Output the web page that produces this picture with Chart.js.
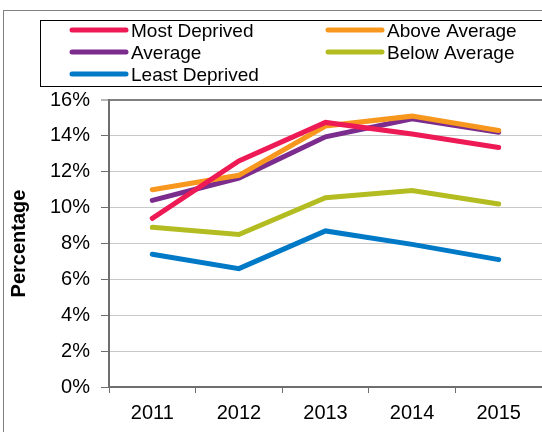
<!DOCTYPE html>
<html>
<head>
<meta charset="utf-8">
<script src="https://cdn.jsdelivr.net/npm/chart.js@4.4.1/dist/chart.umd.min.js"></script>
<style>
    body { margin: 0; background: #fff; }
    canvas { display: block; }
</style>
</head>
<body>
<canvas id="chart" width="542" height="432"></canvas>
<script>
const years = ['2011', '2012', '2013', '2014', '2015'];
const mostDeprived = [9.4, 12.6, 14.75, 14.1, 13.35];
const aboveAverage = [11.0, 11.8, 14.55, 15.1, 14.3];
const average = [10.4, 11.65, 13.95, 14.95, 14.2];
const belowAverage = [8.9, 8.5, 10.55, 10.95, 10.2];
const leastDeprived = [7.4, 6.6, 8.7, 7.95, 7.1];
const yTicks = [0, 2, 4, 6, 8, 10, 12, 14, 16];

const FONT = 'Liberation Sans, Arial, sans-serif';

// legend in a boxed frame, two columns, and the outer chart border
const frameLegend = {
    id: 'frameLegend',
    afterDraw(chart) {
        const ctx = chart.ctx;
        ctx.save();
        ctx.strokeStyle = '#808080';
        ctx.lineWidth = 1;
        ctx.strokeRect(3.5, 10.5, 700, 600);

        ctx.strokeStyle = '#000';
        ctx.strokeRect(40.5, 20.5, 700, 66);

        const slots = [[72, 30], [328, 30], [72, 52], [328, 52], [72, 74]];
        ctx.font = '19px ' + FONT;
        ctx.textBaseline = 'alphabetic';
        chart.data.datasets.forEach((ds, i) => {
            const [x, y] = slots[i];
            ctx.strokeStyle = ds.borderColor;
            ctx.lineWidth = 5;
            ctx.lineCap = 'round';
            ctx.beginPath();
            ctx.moveTo(x, y);
            ctx.lineTo(x + 54, y);
            ctx.stroke();
            ctx.fillStyle = '#000';
            ctx.fillText(ds.label, x + 59, y + 7);
        });
        ctx.restore();
    }
};

function lineSet(label, data, color) {
    return {
        label, data,
        borderColor: color,
        backgroundColor: color,
        borderWidth: 5,
        borderCapStyle: 'round',
        pointRadius: 0,
        tension: 0,
        fill: false
    };
}

new Chart(document.getElementById('chart').getContext('2d'), {
    type: 'line',
    data: {
        labels: years,
        datasets: [
            lineSet('Most Deprived', mostDeprived, '#ED1A55'),
            lineSet('Above Average', aboveAverage, '#F7971E'),
            lineSet('Average', average, '#7B2C8D'),
            lineSet('Below Average', belowAverage, '#B3BD21'),
            lineSet('Least Deprived', leastDeprived, '#0079C7')
        ]
    },
    options: {
        responsive: false,
        animation: false,
        layout: { padding: { top: 100, right: -3.5, left: 0, bottom: 0 } },
        plugins: { legend: { display: false }, tooltip: { enabled: false } },
        scales: {
            x: {
                offset: true,
                afterFit: s => { s.height = 45; },
                border: { color: '#6e6e6e', width: 2 },
                grid: { offset: true, drawOnChartArea: false, tickLength: 6, tickColor: '#6e6e6e' },
                ticks: { color: '#000', padding: 8, font: { family: FONT, size: 20 } }
            },
            y: {
                min: 0,
                max: 16,
                afterFit: s => { s.width = 109; },
                afterBuildTicks: s => { s.ticks = yTicks.map(v => ({ value: v })); },
                border: { color: '#6e6e6e', width: 2 },
                grid: {
                    color: c => c.tick.value === 16 ? '#808080' : '#c8c8c8',
                    lineWidth: c => c.tick.value === 16 ? 2 : 1,
                    tickLength: 8,
                    tickColor: '#6e6e6e',
                    tickWidth: 1
                },
                ticks: {
                    color: '#000',
                    padding: 11,
                    font: { family: FONT, size: 20 },
                    callback: v => v + '%'
                },
                title: {
                    display: true,
                    text: 'Percentage',
                    color: '#000',
                    padding: { top: 7, bottom: 0 },
                    font: { family: FONT, size: 20, weight: 'bold' }
                }
            }
        }
    },
    plugins: [frameLegend]
});
</script>
</body>
</html>
